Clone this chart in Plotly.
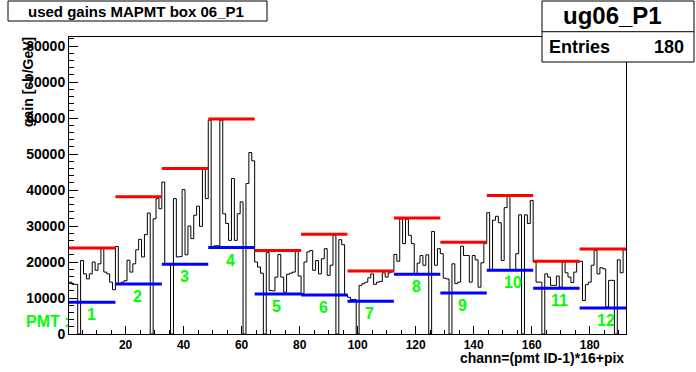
import plotly.graph_objects as go

# ---------------- data ----------------
channels = list(range(1, 193))

gain_pmt01 = [14400, 13800, 13800, 0, 20400, 16700, 15300, 16700, 20000, 17700, 19500, 23900, 17200, 16700, 14400, 12300]
gain_pmt02 = [24300, 13800, 14400, 14800, 20500, 17200, 19500, 23400, 26300, 21400, 27600, 33600, 0, 32000, 37600, 34800]
gain_pmt03 = [42200, 19500, 19500, 0, 37600, 21400, 21500, 40100, 22000, 30000, 26500, 33000, 35500, 29900, 45800, 37600]
gain_pmt04 = [59400, 24100, 24500, 24500, 59400, 33400, 30700, 26000, 43200, 26000, 33400, 36700, 0, 41800, 50400, 48100]
gain_pmt05 = [20000, 18600, 16900, 0, 22600, 12100, 12000, 15800, 22100, 15800, 11600, 16600, 16900, 17200, 23000, 16100]
gain_pmt06 = [11200, 20000, 22800, 23200, 17700, 20400, 16700, 20900, 23700, 16300, 19100, 27400, 0, 26200, 24800, 11000]
gain_pmt07 = [10200, 9600, 9600, 0, 13500, 14000, 14400, 15600, 16700, 13800, 14400, 14600, 17000, 15800, 17000, 17300]
gain_pmt08 = [22100, 20200, 32000, 25100, 31900, 27400, 25100, 16700, 19700, 21800, 19100, 22000, 0, 28500, 19100, 23700]
gain_pmt09 = [22300, 15500, 15300, 0, 19500, 14000, 14400, 24400, 21800, 21800, 14400, 21800, 20600, 13000, 19800, 25100]
gain_pmt10 = [33700, 17900, 31600, 32700, 30900, 20400, 35100, 38300, 17900, 17900, 22300, 33100, 0, 33100, 30700, 37100]
gain_pmt11 = [20000, 14400, 14400, 0, 16700, 15800, 13500, 13500, 16100, 13000, 20000, 17000, 15800, 14300, 17200, 20000]
gain_pmt12 = [20200, 9300, 13700, 14400, 19100, 23200, 16700, 18400, 18100, 7500, 14900, 14900, 0, 20600, 17000, 23400]

gain = (gain_pmt01 + gain_pmt02 + gain_pmt03 + gain_pmt04 + gain_pmt05 + gain_pmt06 +
        gain_pmt07 + gain_pmt08 + gain_pmt09 + gain_pmt10 + gain_pmt11 + gain_pmt12)

pmt_ids = list(range(1, 13))
pmt_labels = [str(i) for i in pmt_ids]
pmt_high = [23900, 38100, 46000, 59700, 23200, 27700, 17500, 32200, 25500, 38500, 20200, 23600]
pmt_low = [8850, 13900, 19400, 24000, 11100, 10800, 9100, 16600, 11400, 17700, 12700, 7200]

x_tick_vals = [20, 40, 60, 80, 100, 120, 140, 160, 180]
x_tick_text = [str(v) for v in x_tick_vals]
y_tick_vals = [0, 10000, 20000, 30000, 40000, 50000, 60000, 70000, 80000]
y_tick_text = [str(v) for v in y_tick_vals]

n_entries = sum(1 for g in gain if g != 0)

# ---------------- layout helpers ----------------
W, H = 696, 372
ML, MR, MT, MB = 69, 70, 37, 38
PW = W - ML - MR
PH = H - MT - MB
FONT = "Liberation Sans, Arial, Helvetica, sans-serif"


def px(x):
    return (x - ML) / PW


def py(y):
    return (H - MB - y) / PH


# step outline of the histogram (bin edges at channel +- 0.5)
xs = [c - 0.5 for c in channels] + [channels[-1] + 0.5]
ys = gain + [gain[-1]]

fig = go.Figure()
fig.add_trace(go.Scatter(x=xs, y=ys, mode="lines",
                         line=dict(color="black", width=1, shape="hv"),
                         hoverinfo="skip", showlegend=False))

shapes = []
annotations = []
for i, pid in enumerate(pmt_ids):
    x0 = (pid - 1) * 16 + 0.5
    x1 = x0 + 16
    shapes.append(dict(type="line", xref="x", yref="y", x0=x0, x1=x1,
                       y0=pmt_high[i], y1=pmt_high[i],
                       line=dict(color="#ff0000", width=3)))
    shapes.append(dict(type="line", xref="x", yref="y", x0=x0, x1=x1,
                       y0=pmt_low[i], y1=pmt_low[i],
                       line=dict(color="#0000ff", width=3)))
    annotations.append(dict(x=x0 + 5.4, y=pmt_low[i] - 3450, xref="x", yref="y",
                            text="<b>" + pmt_labels[i] + "</b>", showarrow=False,
                            xanchor="left", yanchor="middle",
                            font=dict(color="#00ff00", size=16, family=FONT)))

# title box
shapes.append(dict(type="rect", xref="paper", yref="paper",
                   x0=px(8), x1=px(267), y0=py(21), y1=py(1),
                   line=dict(color="black", width=1), fillcolor="white"))
annotations.append(dict(x=px(136), y=py(11.5), xref="paper", yref="paper",
                        text="<b>used gains MAPMT box 06_P1</b>", showarrow=False,
                        xanchor="center", yanchor="middle",
                        font=dict(color="black", size=15, family=FONT)))

# stats box
shapes.append(dict(type="rect", xref="paper", yref="paper",
                   x0=px(542), x1=px(694), y0=py(62), y1=py(1),
                   line=dict(color="black", width=1), fillcolor="white"))
shapes.append(dict(type="line", xref="paper", yref="paper",
                   x0=px(542), x1=px(694), y0=py(31.7), y1=py(31.7),
                   line=dict(color="black", width=1)))
annotations.append(dict(x=px(612), y=py(16), xref="paper", yref="paper",
                        text="<b>ug06_P1</b>", showarrow=False,
                        xanchor="center", yanchor="middle",
                        font=dict(color="black", size=24, family=FONT)))
annotations.append(dict(x=px(547), y=py(47), xref="paper", yref="paper",
                        text="<b>Entries</b>", showarrow=False,
                        xanchor="left", yanchor="middle",
                        font=dict(color="black", size=18, family=FONT)))
annotations.append(dict(x=px(686), y=py(47), xref="paper", yref="paper",
                        text="<b>%d</b>" % n_entries, showarrow=False,
                        xanchor="right", yanchor="middle",
                        font=dict(color="black", size=18, family=FONT)))

# axis titles
annotations.append(dict(x=px(28), y=py(82), xref="paper", yref="paper",
                        text="<b>gain [cb/GeV]</b>", showarrow=False, textangle=-90,
                        xanchor="center", yanchor="middle",
                        font=dict(color="black", size=14, family=FONT)))
annotations.append(dict(x=px(626), y=py(358), xref="paper", yref="paper",
                        text="<b>chann=(pmt ID-1)*16+pix</b>", showarrow=False,
                        xanchor="right", yanchor="middle",
                        font=dict(color="black", size=14, family=FONT)))
annotations.append(dict(x=px(24), y=py(321), xref="paper", yref="paper",
                        text="<b>PMT :</b>", showarrow=False,
                        xanchor="left", yanchor="middle",
                        font=dict(color="#00ff00", size=16, family=FONT)))

fig.update_layout(
    width=W, height=H,
    margin=dict(l=ML, r=MR, t=MT, b=MB, pad=0),
    paper_bgcolor="white", plot_bgcolor="white",
    showlegend=False,
    shapes=shapes, annotations=annotations,
    xaxis=dict(range=[0.5, 192.5], tickmode="array", tickvals=x_tick_vals, ticktext=x_tick_text,
               ticks="inside", ticklen=8, tickwidth=1, tickcolor="black",
               showline=True, linecolor="black", linewidth=1, mirror=True,
               showgrid=False, zeroline=False,
               tickfont=dict(size=12, family=FONT, color="black", weight="bold"),
               minor=dict(ticks="inside", ticklen=4, tickcolor="black", tickwidth=1,
                          tickmode="linear", tick0=0, dtick=5, showgrid=False)),
    yaxis=dict(range=[0, 82500], tickmode="array", tickvals=y_tick_vals, ticktext=y_tick_text,
               ticks="inside", ticklen=9, tickwidth=1, tickcolor="black",
               showline=True, linecolor="black", linewidth=1, mirror=True,
               showgrid=False, zeroline=False,
               tickfont=dict(size=14, family=FONT, color="black", weight="bold"),
               minor=dict(ticks="inside", ticklen=5, tickcolor="black", tickwidth=1,
                          tickmode="linear", tick0=0, dtick=2000, showgrid=False)),
)

fig.write_html("out.html",
               config={"displayModeBar": False},
               post_script="document.body.style.margin='0';document.body.style.padding='0';")
